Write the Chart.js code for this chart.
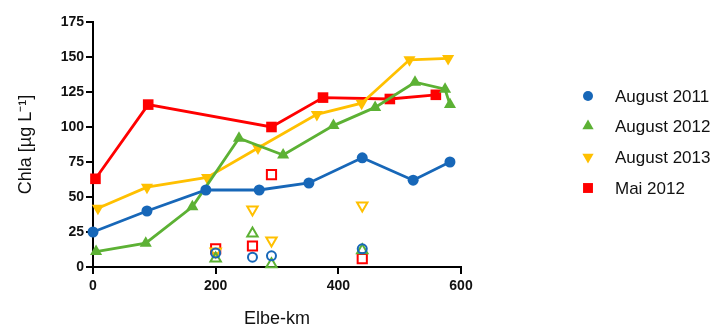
<!DOCTYPE html>
<html><head><meta charset="utf-8">
<script src="https://cdn.jsdelivr.net/npm/chart.js@4"></script>
<style>html,body{margin:0;padding:0;background:#fff}</style>
</head><body>
<canvas id="c" width="716" height="324"></canvas>
<script>
// ---- data (Elbe-km, Chla in µg/L) ----
const seriesNames = ['August 2011', 'August 2012', 'August 2013', 'Mai 2012'];
const kmAug2011 = [0, 88, 184, 271, 352, 439, 522, 582];
const chlaAug2011 = [25, 40, 55, 55, 60, 78, 62, 75];
const kmAug2012 = [5, 86, 162, 238, 310, 392, 460, 525, 574, 582];
const chlaAug2012 = [11, 17, 43, 92, 80, 101, 114, 132, 127, 116];
const kmAug2013 = [8, 88, 186, 269, 365, 438, 516, 579];
const chlaAug2013 = [42, 57, 64, 85, 109, 117, 148, 149];
const kmMai2012 = [4, 90, 291, 375, 484, 559];
const chlaMai2012 = [63, 116, 100, 121, 120, 123];
// open symbols (unconnected)
const kmOpen = [200, 260, 291, 439];
const openAug2011 = [10, 7, 8, 13];
const openAug2012 = [6, 24, 2, 12];
const openAug2013 = [11, 41, 19, 44];
const openMai2012 = [13, 15, 66, 6];
const yTicks = [0, 25, 50, 75, 100, 125, 150, 175];
const xTicks = [0, 200, 400, 600];

const colors = ['#1767b8', '#5cb134', '#ffc000', '#ff0000'];
const styles = [
  {pointStyle: 'circle', rotation: 0, radius: 5.5},
  {pointStyle: 'triangle', rotation: 0, radius: 7},
  {pointStyle: 'triangle', rotation: 180, radius: 7},
  {pointStyle: 'rect', rotation: 0, radius: 7.5}
];
const pts = (xs, ys) => xs.map((x, i) => ({x, y: ys[i]}));
const filled = [[kmAug2011, chlaAug2011], [kmAug2012, chlaAug2012], [kmAug2013, chlaAug2013], [kmMai2012, chlaMai2012]];
const opens = [openAug2011, openAug2012, openAug2013, openMai2012];

const datasets = [];
opens.forEach((ys, i) => {
  datasets.push({
    label: seriesNames[i] + ' (open)', data: pts(kmOpen, ys), showLine: false,
    pointStyle: styles[i].pointStyle, rotation: styles[i].rotation,
    pointRadius: styles[i].radius - 1, borderColor: colors[i], backgroundColor: 'rgba(0,0,0,0)',
    pointBorderWidth: 2, clip: false, order: 10 + i
  });
});
filled.forEach((d, i) => {
  datasets.push({
    label: seriesNames[i], data: pts(d[0], d[1]), showLine: true,
    borderColor: colors[i], backgroundColor: colors[i], borderWidth: 2.8,
    pointStyle: styles[i].pointStyle, rotation: styles[i].rotation,
    pointRadius: styles[i].radius, pointBorderWidth: 0, clip: false, order: i
  });
});

const legendPlugin = {
  id: 'sideLegend',
  afterDraw(chart, args, opts) {
    const ctx = chart.ctx;
    ctx.save();
    ctx.font = '17px "Liberation Sans", Arial, sans-serif';
    ctx.textBaseline = 'middle';
    ctx.textAlign = 'left';
    seriesNames.forEach((name, i) => {
      const y = opts.rows[i];
      ctx.fillStyle = colors[i];
      ctx.strokeStyle = colors[i];
      Chart.helpers.drawPoint(ctx, {pointStyle: styles[i].pointStyle, rotation: styles[i].rotation,
        radius: styles[i].radius - 0.5, borderWidth: 0}, opts.markerX, y);
      ctx.fillStyle = '#111';
      ctx.fillText(name, opts.textX, y + 1);
    });
    ctx.restore();
  }
};

const tickFont = {family: '"Liberation Sans", Arial, sans-serif', size: 14, weight: 'bold'};
const titleFont = {family: '"Liberation Sans", Arial, sans-serif', size: 18, lineHeight: 1};

new Chart(document.getElementById('c'), {
  type: 'scatter',
  data: {datasets},
  plugins: [legendPlugin],
  options: {
    responsive: false, animation: false,
    layout: {padding: {top: 22, right: 255, left: 0, bottom: 0}},
    plugins: {
      legend: {display: false}, tooltip: {enabled: false},
      sideLegend: {rows: [96, 126, 157, 188], markerX: 588, textX: 615}
    },
    scales: {
      x: {
        type: 'linear', min: 0, max: 600,
        afterBuildTicks: s => { s.ticks = xTicks.map(v => ({value: v})); },
        afterFit: s => { s.height = 57; },
        border: {display: true, color: '#000', width: 2},
        grid: {drawOnChartArea: false, drawTicks: true, tickLength: 7, color: '#000', lineWidth: 2},
        ticks: {color: '#111', font: tickFont, padding: 4, maxRotation: 0},
        title: {display: true, text: 'Elbe-km', color: '#111', font: titleFont, padding: {top: 0, bottom: -4}}
      },
      y: {
        type: 'linear', min: 0, max: 175,
        afterBuildTicks: s => { s.ticks = yTicks.map(v => ({value: v})); },
        afterFit: s => { s.width = 93; },
        border: {display: true, color: '#000', width: 2},
        grid: {drawOnChartArea: false, drawTicks: true, tickLength: 7, color: '#000', lineWidth: 2},
        ticks: {color: '#111', font: tickFont, padding: 2},
        title: {display: true, text: 'Chla [µg L⁻¹]', color: '#111', font: titleFont, padding: {top: 17, bottom: 0}}
      }
    }
  }
});
</script>
</body></html>
